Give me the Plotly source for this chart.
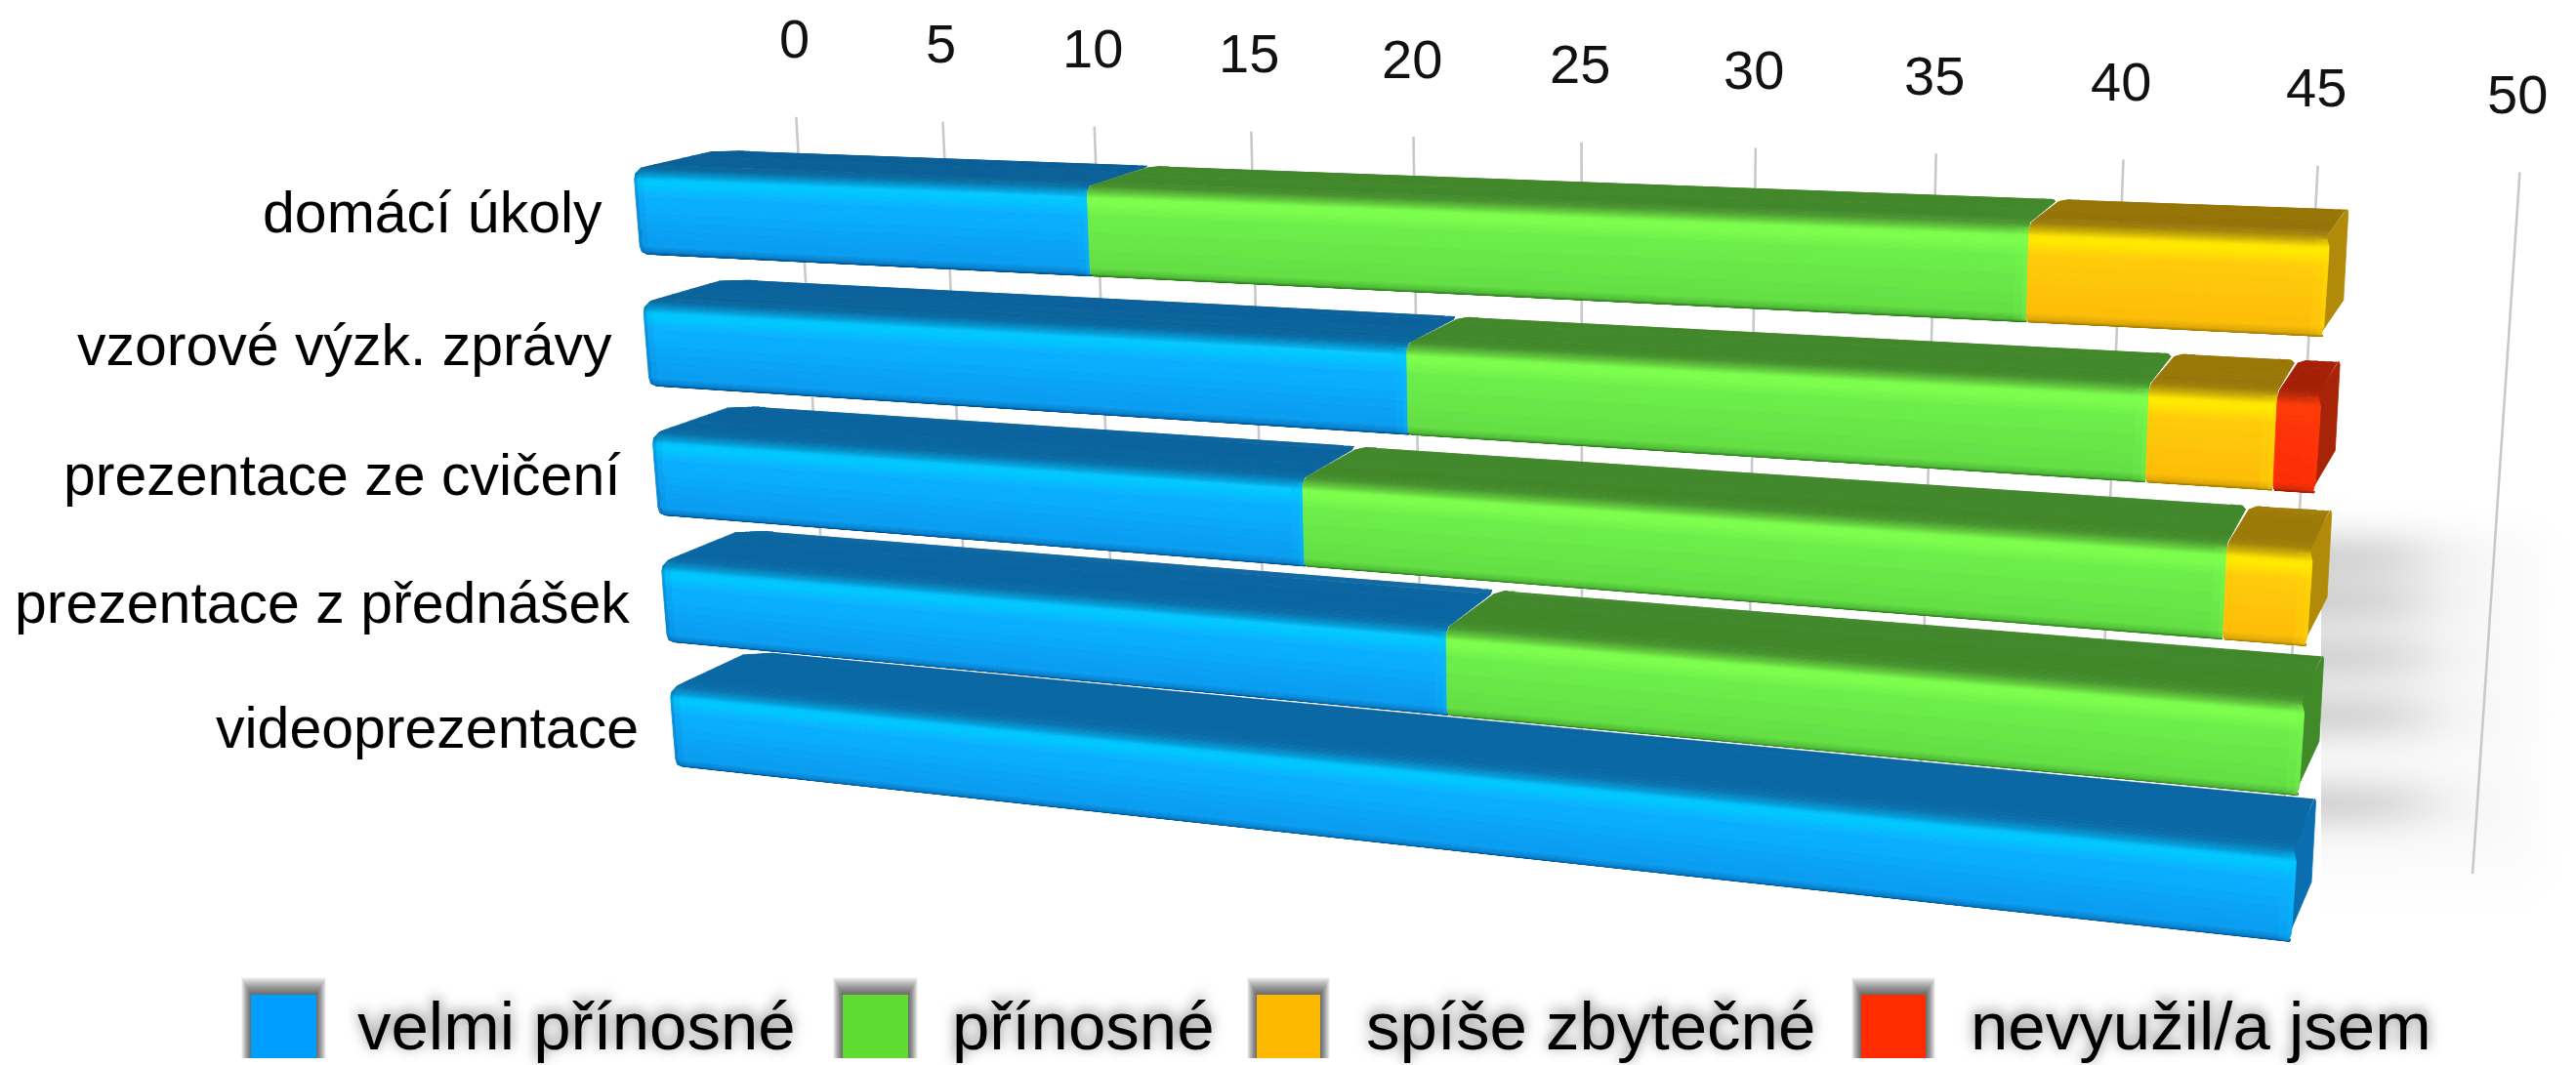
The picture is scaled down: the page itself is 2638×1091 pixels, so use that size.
import numpy as np
import plotly.graph_objects as go

# Survey data: one row per study material, stacked by rating
categories = ["domácí úkoly", "vzorové výzk. zprávy", "prezentace ze cvičení",
              "prezentace z přednášek", "videoprezentace"]
series_names = ["velmi přínosné", "přínosné", "spíše zbytečné", "nevyužil/a jsem"]
velmi_prinosne = [14, 23, 20, 24, 46]
prinosne = [25, 19, 24, 22, 0]
spise_zbytecne = [7, 3, 2, 0, 0]
nevyuzil = [0, 1, 0, 0, 0]
axis_ticks = [0, 5, 10, 15, 20, 25, 30, 35, 40, 45, 50]

W, H_PX = 2638, 1091
BAR_H = 0.645            # bar height as a fraction of the row pitch
WALL_D = 2.124           # depth of the back wall in bar depths
PERSP_BAR, PERSP_WALL = -0.00362, -0.00353


def project(v, r, d, persp=PERSP_BAR):
    """Perspective camera: value v, row position r, depth d -> page position."""
    w = 1 + persp * v + 0.0098 * r + 0.0395 * d
    return ((649 + 29.12 * v + 16.0 * r + 110.9 * d) / w,
            (173 + 0.606 * v + 139.8 * r - 13.8 * d) / w)


def rgb(h):
    return np.array([int(h[i:i + 2], 16) for i in (1, 3, 5)], float)


def mix(a, b, t):
    return a + (b - a) * t


def css(c):
    q = np.clip(np.round(c / 2) * 2, 0, 255).astype(int)
    return f"rgb({q[0]},{q[1]},{q[2]})"


palette = [
    dict(edge="#004a88", fb="#0a9cf0", fm="#0bb0ff", rim="#00c8ff", top="#0b6399", rear="#0c6098", side="#0a6eb0"),
    dict(edge="#2c7a1c", fb="#62de44", fm="#6ef04a", rim="#7eff4c", top="#42882b", rear="#44882c", side="#3f8a2a"),
    dict(edge="#a07c00", fb="#fdbd08", fm="#ffcb0a", rim="#ffea00", top="#95740a", rear="#977608", side="#b08a08"),
    dict(edge="#8e1c04", fb="#fb2e06", fm="#ff3408", rim="#ff3c08", top="#a32006", rear="#a52006", side="#a82408"),
]
swatch_colors = ["#009fff", "#5fdb32", "#fdb900", "#ff2c00"]


def profile(p, row):
    """Cross-section of a bar: (offset below bar top, depth, colour, end inset)."""
    edge, fb, fm, rim = (rgb(p[k]) for k in ("edge", "fb", "fm", "rim"))
    # Top faces nearer the viewer catch a little more light
    lift = 0.5 * row / 4
    top = mix(rgb(p["top"]), rgb(p["side"]), lift)
    rear = mix(rgb(p["rear"]), rgb(p["side"]), lift)
    keys = [
        (BAR_H, 0.08, edge, 0.25),
        (BAR_H - 0.006, 0.03, edge, 0.16),
        (BAR_H - 0.03, 0.0, mix(edge, fb, 0.65), 0.07),
        (BAR_H - 0.075, 0.0, fb, 0.02),
        (0.20, 0.0, fm, 0.0),
        (0.105, 0.0, rim, 0.0),
        (0.075, 0.0, mix(rim, fm, 0.2), 0.0),
        (0.035, 0.0, mix(rim, top, 0.5), 0.04),
        (0.0, 0.05, mix(rim, top, 0.92), 0.1),
        (0.0, 0.2, top, 0.1),
        (0.0, 0.88, rear, 0.2),
        (0.006, 1.0, rear, 0.9),
    ]
    out = []
    for a, b in zip(keys[:-1], keys[1:]):
        for t in np.linspace(0, 1, 6, endpoint=False):
            out.append((mix(a[0], b[0], t), mix(a[1], b[1], t), mix(a[2], b[2], t), mix(a[3], b[3], t)))
    out.append(keys[-1])
    return out


fig = go.Figure()

# Soft shadow cast on the wall by the lower rows
sx = np.arange(2380, 2638, 6.0)
sy = np.arange(510, 966, 6.0)
streaks = [570, 617, 673, 733, 823]
gx, gy = np.meshgrid(sx, sy)
fade = 1 / (1 + np.exp((gx - 2478) / 26))
shadow = sum(np.exp(-((gy - c) / 28) ** 2) for c in streaks) * fade * 0.36
haze = 0.05 * (1 / (1 + np.exp((gx - 2600) / 12))) * (1 / (1 + np.exp((545 - gy) / 10))) * (1 / (1 + np.exp((gy - 900) / 16)))
fig.add_trace(go.Heatmap(x=sx, y=sy, z=shadow + haze, zmin=0, zmax=1, zsmooth="best", showscale=False,
                         colorscale=[[0, "#ffffff"], [1, "#999999"]], hoverinfo="skip"))

# Vertical grid on the back wall
gridx, gridy = [], []
for t in axis_ticks:
    for r in (-0.1, 4.87):
        px, py = project(t, r, WALL_D, PERSP_WALL)
        gridx.append(px)
        gridy.append(py)
    gridx.append(None)
    gridy.append(None)
fig.add_trace(go.Scatter(x=gridx, y=gridy, mode="lines", line=dict(color="#c9c9c9", width=2.6),
                         hoverinfo="skip", showlegend=False))


def add_cells(cells):
    for color, (xs, ys) in cells.items():
        fig.add_trace(go.Scatter(x=xs, y=ys, mode="lines", fill="toself", fillcolor=color,
                                 line=dict(color=color, width=0.8), hoverinfo="skip", showlegend=False))


def add_quad(cells, color, pts):
    xs, ys = cells.setdefault(color, ([], []))
    for p in pts + pts[:1]:
        xs.append(p[0])
        ys.append(p[1])
    xs.append(None)
    ys.append(None)


stack = np.array([velmi_prinosne, prinosne, spise_zbytecne, nevyuzil])

# Lower rows first so the upper bars sit in front of their top faces
for row in range(len(categories) - 1, -1, -1):
    start = 0
    parts = [(s, stack[s][row]) for s in range(len(series_names)) if stack[s][row] > 0]
    for idx, (s, value) in enumerate(parts):
        v0, v1 = start, start + value
        start = v1
        first, last = idx == 0, idx == len(parts) - 1
        p = palette[s]
        prof = profile(p, row)
        cells = {}
        # End face, only visible on the last part of the stack
        if last:
            side = css(rgb(p["side"]))
            add_quad(cells, side, [project(v1 - 0.15, row + 0.04, 0.03), project(v1 - 0.03, row + 0.0, 1.0),
                                   project(v1, row + 0.02, 1.0), project(v1, row + BAR_H - 0.05, 1.0),
                                   project(v1 - 0.15, row + BAR_H, 0.04)])
        for a, b in zip(prof[:-1], prof[1:]):
            front = a[1] < 0.02 and b[1] < 0.02
            base = mix(a[2], b[2], 0.5)
            # Outer ends are rounded, joins between parts only slightly
            la, lb = (a[3], b[3]) if first else (a[3] * 0.2, b[3] * 0.2)
            ra_in, rb_in = (min(a[3], 0.06), min(b[3], 0.06)) if last else (a[3] * 0.2, b[3] * 0.2)
            xa = [v0 + la, v0 + la + 0.1, v0 + la + 0.3, v1 - ra_in - 0.3, v1 - ra_in - 0.1, v1 - ra_in]
            xb = [v0 + lb, v0 + lb + 0.1, v0 + lb + 0.3, v1 - rb_in - 0.3, v1 - rb_in - 0.1, v1 - rb_in]
            tints = [(rgb(p["edge"]), 0.28 if first else 0.0), (rgb(p["edge"]), 0.07 if first else 0.0), (base, 0),
                     (rgb(p["rim"]), 0.12), (rgb(p["rim"]), 0.3)]
            for k in range(5):
                col = mix(base, tints[k][0], tints[k][1]) if front else base
                ra, rb = row + a[0], row + b[0]
                add_quad(cells, css(col), [project(xa[k], ra, a[1]), project(xa[k + 1], ra, a[1]),
                                           project(xb[k + 1], rb, b[1]), project(xb[k], rb, b[1])])
        add_cells(cells)

annotations = []
for t in axis_ticks:
    px, py = project(t, -0.1, WALL_D, PERSP_WALL)
    annotations.append(dict(x=px - 2, y=py - 80, text=str(t), showarrow=False, xref="x", yref="y",
                            xanchor="center", yanchor="middle",
                            font=dict(family="Liberation Sans", size=56, color="#111111")))
for i, name in enumerate(categories):
    px, py = project(0, i + 0.32, 0)
    annotations.append(dict(x=px - 33, y=py + 1, text=name, showarrow=False, xref="x", yref="y",
                            xanchor="right", yanchor="middle",
                            font=dict(family="Liberation Sans", size=59, color="#000000")))

# Legend row
swatch_left = [257, 863, 1287, 1906]
swatch_right = [324, 930, 1352, 1972]
legend_text_x = [364, 973, 1397, 2016]
shapes = []
for l, r, c, tx, name in zip(swatch_left, swatch_right, swatch_colors, legend_text_x, series_names):
    for k in range(18, 0, -1):
        shapes.append(dict(type="rect", x0=l - k * 0.55, x1=r + k * 0.55, y0=1019 - k * 1.0, y1=1084,
                           xref="x", yref="y", fillcolor="rgba(0,0,0,0.045)", line=dict(width=0), layer="below"))
    shapes.append(dict(type="rect", x0=l, x1=r, y0=1019, y1=1084, xref="x", yref="y",
                       fillcolor=c, line=dict(width=0)))
    annotations.append(dict(x=tx, y=1051, text=name, showarrow=False, xref="x", yref="y",
                            xanchor="left", yanchor="middle",
                            font=dict(family="Liberation Sans", size=69, color="#000000",
                                      shadow="0px -3px 14px rgba(0,0,0,0.55)")))

fig.update_layout(
    width=W, height=H_PX, margin=dict(l=0, r=0, t=0, b=0), showlegend=False,
    paper_bgcolor="#ffffff", plot_bgcolor="#ffffff",
    xaxis=dict(range=[0, W], visible=False, fixedrange=True),
    yaxis=dict(range=[H_PX, 0], visible=False, fixedrange=True),
    annotations=annotations, shapes=shapes,
)
fig.write_html("out.html")
